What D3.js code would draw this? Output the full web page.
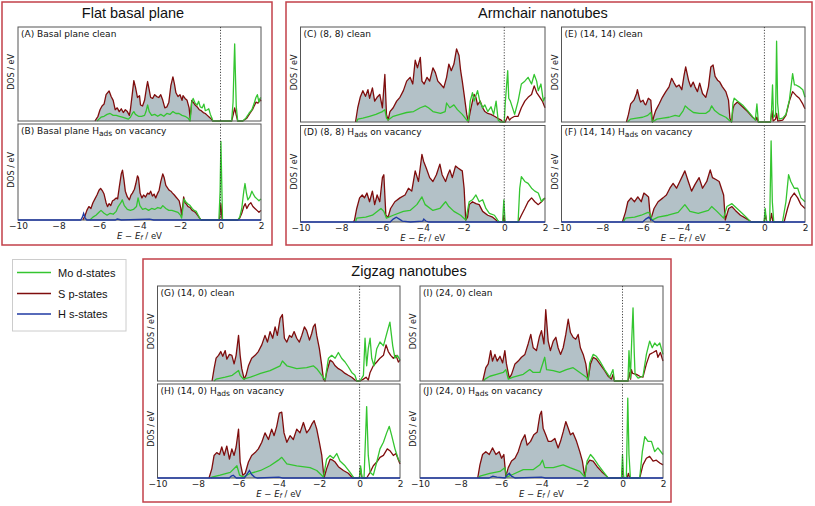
<!DOCTYPE html>
<html><head><meta charset="utf-8">
<script src="https://cdn.jsdelivr.net/npm/d3@7"></script>
<style>body{margin:0;background:#fff}svg{display:block}</style>
</head><body><svg id="c" width="815" height="506"></svg>
<script>
// ---------------- DATA ----------------
const xTicks = [-10, -8, -6, -4, -2, 0, 2];
const xTickLabels = ["\u221210", "\u22128", "\u22126", "\u22124", "\u22122", "0", "2"];
const seriesNames = ["Mo d-states", "S p-states", "H s-states"];
const groupTitles = ["Flat basal plane", "Armchair nanotubes", "Zigzag nanotubes"];

// Panel A: Basal plane clean
const sA = [[-6.2,0],[-6.05,5],[-5.95,12],[-5.85,16],[-5.75,18],[-5.65,28],[-5.5,32],[-5.4,26],[-5.3,22],[-5.2,12],[-5.1,14],[-5.0,10],[-4.9,13],[-4.8,9],[-4.7,12],[-4.6,10],[-4.5,6],[-4.45,12],[-4.35,30],[-4.28,43],[-4.2,36],[-4.1,25],[-4.0,27],[-3.95,17],[-3.85,16],[-3.75,22],[-3.65,36],[-3.6,42],[-3.52,33],[-3.45,25],[-3.35,24],[-3.25,28],[-3.15,26],[-3.05,25],[-2.95,28],[-2.85,22],[-2.75,14],[-2.65,15],[-2.55,20],[-2.45,38],[-2.35,47],[-2.28,40],[-2.2,30],[-2.1,26],[-2.0,28],[-1.9,22],[-1.85,27],[-1.75,24],[-1.65,22],[-1.55,14],[-1.5,3],[-1.42,22],[-1.35,20],[-1.25,17],[-1.15,15],[-1.05,12],[-0.95,11],[-0.85,9],[-0.75,8],[-0.65,6],[-0.55,4],[-0.45,2],[-0.38,0],
  [0.55,0],[0.62,6],[0.7,14],[0.78,6],[0.85,0],[1.1,0],[1.3,3],[1.45,8],[1.6,13],[1.75,20],[1.85,19],[1.95,23],[2.0,21]];
const mA = [[-6.1,0],[-6.0,2],[-5.9,4],[-5.75,5],[-5.6,7],[-5.45,8],[-5.3,6],[-5.15,6],[-5.0,5],[-4.85,4],[-4.7,3],[-4.55,2],[-4.45,4],[-4.35,8],[-4.28,10],[-4.2,7],[-4.05,5],[-3.9,5],[-3.75,6],[-3.68,10],[-3.6,17],[-3.52,10],[-3.4,6],[-3.25,7],[-3.1,5],[-2.95,7],[-2.8,5],[-2.65,8],[-2.5,7],[-2.35,10],[-2.2,8],[-2.05,8],[-1.9,6],[-1.75,5],[-1.6,3],[-1.5,0],[-1.42,20],[-1.35,24],[-1.25,19],[-1.15,17],[-1.08,21],[-1.0,15],[-0.9,14],[-0.82,18],[-0.75,11],[-0.65,12],[-0.58,13],[-0.5,7],[-0.42,3],[-0.38,0],
  [0.55,0],[0.62,20],[0.67,60],[0.7,82],[0.73,55],[0.78,15],[0.85,0],[1.1,0],[1.25,3],[1.4,8],[1.55,12],[1.65,18],[1.75,25],[1.82,28],[1.9,20],[1.95,24],[2.0,25]];

// Panel B: Basal plane H_ads on vacancy
const sB = [[-6.8,0],[-6.7,4],[-6.6,10],[-6.5,14],[-6.4,12],[-6.3,18],[-6.2,22],[-6.1,26],[-6.0,31],[-5.92,33],[-5.82,30],[-5.75,27],[-5.65,18],[-5.58,14],[-5.5,17],[-5.42,15],[-5.33,20],[-5.25,21],[-5.15,23],[-5.08,22],[-5.0,34],[-4.9,48],[-4.84,52],[-4.77,42],[-4.7,30],[-4.6,24],[-4.5,21],[-4.42,26],[-4.35,28],[-4.25,32],[-4.18,38],[-4.1,46],[-4.05,44],[-3.97,28],[-3.88,23],[-3.8,26],[-3.7,24],[-3.6,28],[-3.52,27],[-3.45,30],[-3.36,25],[-3.28,27],[-3.2,23],[-3.1,28],[-3.03,31],[-2.95,40],[-2.85,48],[-2.78,44],[-2.7,36],[-2.6,33],[-2.53,31],[-2.45,30],[-2.37,28],[-2.28,26],[-2.2,24],[-2.12,22],[-2.04,20],[-1.96,12],[-1.92,5],[-1.87,14],[-1.82,24],[-1.75,18],[-1.7,17],[-1.6,14],[-1.5,13],[-1.4,10],[-1.3,9],[-1.2,7],[-1.1,4],[-1.0,1],[-0.95,0],
  [-0.05,0],[0.02,17],[0.08,0],[0.85,0],[0.95,2],[1.05,7],[1.15,14],[1.22,17],[1.3,12],[1.4,16],[1.5,18],[1.6,14],[1.7,12],[1.8,10],[1.9,8],[2.0,10]];
const mB = [[-6.45,0],[-6.3,3],[-6.15,5],[-6.0,8],[-5.9,10],[-5.75,7],[-5.6,5],[-5.45,7],[-5.3,6],[-5.15,9],[-5.05,14],[-4.92,18],[-4.85,21],[-4.75,15],[-4.6,11],[-4.45,10],[-4.3,11],[-4.15,14],[-4.07,23],[-3.98,15],[-3.85,11],[-3.7,12],[-3.55,10],[-3.4,12],[-3.25,11],[-3.1,13],[-2.95,12],[-2.85,15],[-2.7,12],[-2.55,10],[-2.4,10],[-2.25,9],[-2.1,8],[-1.98,5],[-1.92,2],[-1.86,12],[-1.8,22],[-1.72,19],[-1.62,17],[-1.5,15],[-1.4,12],[-1.3,10],[-1.2,9],[-1.1,5],[-1.0,1],[-0.95,0],
  [-0.08,0],[-0.02,30],[0.02,82],[0.06,40],[0.1,0],[0.85,0],[0.95,3],[1.05,12],[1.15,30],[1.21,38],[1.28,28],[1.35,21],[1.45,24],[1.55,30],[1.62,27],[1.7,24],[1.8,22],[1.9,20],[2.0,22]];
const hB = [[-10,0],[-6.9,0],[-6.82,3],[-6.76,7],[-6.68,2],[-6.6,0],[-5.2,0],[-5.1,1],[-4.9,0],[-4.0,0.5],[-3.5,1],[-3.3,0],[2,0]];

// Panel C: (8, 8) clean
const sC = [[-7.3,0],[-7.19,15],[-7.07,26],[-6.94,33],[-6.81,27],[-6.69,34],[-6.61,25],[-6.47,36],[-6.36,22],[-6.24,26],[-6.11,29],[-5.98,15],[-5.86,50],[-5.78,8],[-5.7,2],[-5.61,11],[-5.45,15],[-5.28,22],[-5.12,26],[-4.95,33],[-4.79,43],[-4.62,47],[-4.49,40],[-4.37,65],[-4.26,57],[-4.12,68],[-4.04,43],[-3.93,40],[-3.79,47],[-3.66,43],[-3.5,57],[-3.38,52],[-3.26,43],[-3.13,40],[-2.97,36],[-2.83,47],[-2.72,61],[-2.6,54],[-2.47,61],[-2.34,77],[-2.22,70],[-2.14,54],[-2.06,43],[-1.97,29],[-1.84,8],[-1.76,0],[-1.67,11],[-1.56,22],[-1.48,29],[-1.39,26],[-1.31,18],[-1.18,22],[-1.06,15],[-0.95,11],[-0.81,9],[-0.65,8],[-0.48,6],[-0.32,4],[-0.15,2],[-0.07,0],
  [0.05,0],[0.17,6],[0.26,2],[0.34,4],[0.51,6],[0.68,6],[0.84,15],[1.01,22],[1.17,26],[1.34,29],[1.47,38],[1.59,31],[1.75,26],[1.87,22],[2.0,15]];
const mC = [[-7.25,0],[-7.19,3],[-6.94,4],[-6.61,6],[-6.3,8],[-5.98,11],[-5.86,13],[-5.78,4],[-5.7,2],[-5.45,6],[-5.12,8],[-4.79,10],[-4.45,11],[-4.12,15],[-3.88,17],[-3.72,15],[-3.5,11],[-3.13,9],[-2.9,11],[-2.83,20],[-2.67,15],[-2.47,18],[-2.3,13],[-2.06,8],[-1.84,2],[-1.76,1],[-1.67,22],[-1.56,31],[-1.48,22],[-1.31,33],[-1.2,22],[-1.06,15],[-0.95,18],[-0.81,11],[-0.65,16],[-0.52,8],[-0.4,22],[-0.3,2],[-0.2,0],
  [0.0,0],[0.05,20],[0.17,54],[0.22,25],[0.3,22],[0.51,8],[0.68,22],[0.84,40],[1.01,43],[1.17,47],[1.34,40],[1.47,50],[1.59,43],[1.67,33],[1.8,40],[1.92,22],[2.0,26]];

// Panel D: (8, 8) H_ads on vacancy
const sD = [[-7.4,0],[-7.35,2],[-7.24,14],[-7.1,25],[-6.97,28],[-6.86,25],[-6.74,30],[-6.61,21],[-6.47,32],[-6.36,18],[-6.24,28],[-6.11,21],[-5.98,46],[-5.91,49],[-5.81,7],[-5.7,5],[-5.58,14],[-5.37,21],[-5.12,25],[-4.87,28],[-4.7,35],[-4.54,32],[-4.37,53],[-4.21,42],[-4.04,70],[-3.96,63],[-3.83,56],[-3.66,46],[-3.5,42],[-3.33,49],[-3.16,60],[-3.05,49],[-2.88,42],[-2.77,49],[-2.67,54],[-2.55,46],[-2.39,58],[-2.27,56],[-2.14,54],[-2.06,53],[-1.97,35],[-1.89,2],[-1.8,5],[-1.72,18],[-1.56,21],[-1.39,19],[-1.23,18],[-1.06,11],[-0.81,7],[-0.57,5],[-0.4,2],[-0.32,0],
  [-0.06,0],[-0.02,7],[0.03,0],[0.68,0],[0.84,7],[1.01,14],[1.17,21],[1.34,25],[1.5,21],[1.67,18],[1.83,21],[2.0,25]];
const mD = [[-7.3,0],[-7.24,4],[-6.8,5],[-6.47,7],[-6.05,14],[-5.91,11],[-5.78,4],[-5.45,7],[-4.95,11],[-4.62,12],[-4.29,18],[-4.04,26],[-3.88,18],[-3.5,12],[-3.16,14],[-2.88,21],[-2.72,16],[-2.47,11],[-2.14,7],[-1.89,2],[-1.72,21],[-1.56,23],[-1.39,28],[-1.23,21],[-1.06,23],[-0.9,14],[-0.73,9],[-0.48,7],[-0.32,2],[-0.25,0],
  [-0.08,0],[-0.02,23],[0.04,0],[0.68,0],[0.76,35],[0.84,47],[1.01,42],[1.17,40],[1.34,35],[1.5,32],[1.67,30],[1.83,21],[1.92,24],[2.0,24]];
const hD = [[-10,0],[-5.6,0],[-5.45,3],[-5.3,5],[-5.15,3],[-5.0,1],[-4.6,0],[-4.0,1],[-3.95,3],[-3.85,1],[-3.7,0],[2,0]];

// Panel E: (14, 14) clean
const sE = [[-6.8,0],[-6.7,8],[-6.59,19],[-6.43,23],[-6.3,30],[-6.26,34],[-6.15,24],[-6.1,21],[-5.98,23],[-5.9,19],[-5.85,18],[-5.72,25],[-5.6,23],[-5.52,0],[-5.45,6],[-5.36,12],[-5.19,19],[-5.03,26],[-4.86,32],[-4.7,37],[-4.57,46],[-4.45,41],[-4.34,37],[-4.21,39],[-4.07,34],[-3.96,49],[-3.88,58],[-3.74,44],[-3.63,37],[-3.51,42],[-3.42,37],[-3.3,32],[-3.19,41],[-3.05,30],[-2.89,26],[-2.76,37],[-2.64,58],[-2.53,60],[-2.43,48],[-2.31,44],[-2.2,42],[-2.07,37],[-1.9,32],[-1.77,23],[-1.7,4],[-1.62,0],[-1.55,14],[-1.49,18],[-1.33,21],[-1.08,16],[-0.83,11],[-0.58,5],[-0.42,2],[-0.37,5],[-0.3,0],
  [0.3,0],[0.37,12],[0.43,1],[0.55,3],[0.6,9],[0.66,1],[0.9,2],[1.06,7],[1.23,22],[1.39,32],[1.56,28],[1.72,25],[1.89,19],[2.0,14]];
const mE = [[-6.75,0],[-6.6,3],[-6.3,4],[-6.0,5],[-5.75,7],[-5.6,10],[-5.52,0],[-5.3,3],[-5.0,4],[-4.7,5],[-4.4,7],[-4.2,6],[-4.0,12],[-3.9,17],[-3.75,14],[-3.5,10],[-3.2,9],[-2.9,9],[-2.7,12],[-2.6,17],[-2.45,12],[-2.2,8],[-1.9,5],[-1.7,1],[-1.62,0],[-1.55,20],[-1.49,25],[-1.33,22],[-1.08,18],[-0.83,12],[-0.6,6],[-0.45,2],[-0.37,19],[-0.3,0],
  [0.3,0],[0.35,12],[0.4,39],[0.45,5],[0.55,8],[0.6,85],[0.65,20],[0.72,3],[0.9,4],[1.06,8],[1.23,23],[1.39,51],[1.48,39],[1.56,39],[1.72,37],[1.89,34],[2.0,26]];

// Panel F: (14, 14) H_ads on vacancy
const sF = [[-7.0,0],[-6.85,10],[-6.73,21],[-6.57,25],[-6.4,21],[-6.24,26],[-6.07,21],[-5.94,30],[-5.82,28],[-5.71,26],[-5.61,2],[-5.44,14],[-5.24,21],[-5.0,25],[-4.83,28],[-4.66,35],[-4.5,40],[-4.33,35],[-4.17,42],[-3.92,53],[-3.75,42],[-3.59,32],[-3.42,39],[-3.22,46],[-3.05,35],[-2.84,42],[-2.67,54],[-2.56,46],[-2.39,44],[-2.23,42],[-2.01,28],[-1.93,2],[-1.76,14],[-1.6,16],[-1.43,12],[-1.18,7],[-0.93,4],[-0.63,0],
  [-0.02,0],[0.06,7],[0.12,0],[0.28,0],[0.35,9],[0.42,0],[0.97,0],[1.14,14],[1.3,25],[1.47,30],[1.64,25],[1.8,18],[2.0,14]];
const mF = [[-6.95,0],[-6.85,4],[-6.4,5],[-6.07,7],[-5.74,10],[-5.64,9],[-5.54,2],[-5.24,5],[-4.75,7],[-4.25,10],[-3.92,18],[-3.67,11],[-3.26,9],[-2.76,12],[-2.6,16],[-2.34,11],[-2.01,4],[-1.85,16],[-1.6,19],[-1.35,14],[-1.1,9],[-0.85,4],[-0.68,0],
  [-0.02,0],[0.04,14],[0.1,0],[0.26,0],[0.33,84],[0.39,21],[0.46,0],[0.89,0],[1.06,21],[1.19,49],[1.3,42],[1.47,35],[1.64,35],[1.8,25],[2.0,21]];
const hF = [[-10,0],[-6.0,0],[-5.85,3],[-5.7,5],[-5.55,2],[-5.4,0],[2,0]];

// Panel G: (14, 0) clean
const sG = [[-7.3,0],[-7.2,13],[-7.1,24],[-6.98,27],[-6.87,31],[-6.77,26],[-6.65,32],[-6.57,23],[-6.44,28],[-6.32,27],[-6.21,18],[-6.11,27],[-5.99,48],[-5.91,27],[-5.83,13],[-5.71,2],[-5.62,6],[-5.5,16],[-5.34,24],[-5.17,27],[-5.01,31],[-4.84,38],[-4.68,48],[-4.56,41],[-4.43,52],[-4.3,45],[-4.18,57],[-4.07,48],[-3.93,66],[-3.82,70],[-3.72,45],[-3.6,41],[-3.47,48],[-3.36,46],[-3.24,52],[-3.11,45],[-2.98,41],[-2.86,48],[-2.73,57],[-2.62,53],[-2.48,43],[-2.37,50],[-2.29,57],[-2.2,60],[-2.12,48],[-1.99,34],[-1.87,16],[-1.79,2],[-1.71,0],[-1.62,10],[-1.54,16],[-1.46,22],[-1.33,20],[-1.21,16],[-1.05,13],[-0.89,11],[-0.72,8],[-0.56,6],[-0.39,4],[-0.23,1],[-0.14,0],
  [0.02,0],[0.19,2],[0.32,4],[0.43,1],[0.52,9],[0.68,16],[0.85,20],[1.01,24],[1.18,27],[1.31,38],[1.42,31],[1.54,27],[1.67,24],[1.8,27],[1.92,20],[2.0,22]];
const mG = [[-7.2,0],[-7.1,2],[-6.65,4],[-6.3,6],[-5.99,11],[-5.91,6],[-5.75,2],[-5.4,4],[-4.9,8],[-4.43,11],[-3.93,16],[-3.82,21],[-3.6,16],[-3.11,13],[-2.62,14],[-2.29,16],[-2.12,13],[-1.87,6],[-1.71,1],[-1.54,24],[-1.38,27],[-1.21,24],[-1.05,30],[-0.89,24],[-0.72,20],[-0.56,15],[-0.39,9],[-0.23,6],[-0.14,0],
  [0.02,0],[0.19,6],[0.27,45],[0.35,16],[0.43,34],[0.52,45],[0.6,24],[0.71,16],[0.85,34],[1.01,41],[1.18,37],[1.37,52],[1.5,62],[1.64,37],[1.75,24],[1.87,27],[2.0,22]];

// Panel H: (14, 0) H_ads on vacancy
const sH = [[-7.45,0],[-7.31,10],[-7.2,24],[-7.07,27],[-6.93,25],[-6.82,33],[-6.7,24],[-6.57,34],[-6.44,20],[-6.32,31],[-6.21,24],[-6.11,33],[-5.99,52],[-5.91,17],[-5.78,3],[-5.66,5],[-5.5,17],[-5.34,24],[-5.17,27],[-5.01,31],[-4.84,38],[-4.68,48],[-4.51,41],[-4.35,52],[-4.23,45],[-4.1,55],[-3.97,69],[-3.85,70],[-3.74,48],[-3.6,38],[-3.44,45],[-3.28,41],[-3.11,52],[-2.95,48],[-2.78,59],[-2.62,48],[-2.48,52],[-2.37,57],[-2.25,61],[-2.12,52],[-1.99,38],[-1.87,24],[-1.76,0],[-1.63,10],[-1.46,20],[-1.33,19],[-1.21,17],[-1.05,12],[-0.8,8],[-0.56,5],[-0.34,0],
  [-0.01,0],[0.05,10],[0.12,0],[0.35,0],[0.52,6],[0.68,13],[0.85,17],[1.01,22],[1.18,24],[1.37,31],[1.5,29],[1.67,24],[1.8,26],[2.0,15]];
const mH = [[-7.35,0],[-7.31,1],[-6.9,3],[-6.4,6],[-6.07,13],[-5.94,3],[-5.75,1],[-5.4,5],[-4.9,8],[-4.43,13],[-4.02,19],[-3.85,22],[-3.6,15],[-3.11,13],[-2.45,11],[-2.12,8],[-1.79,1],[-1.63,20],[-1.46,24],[-1.3,21],[-1.13,26],[-0.97,18],[-0.72,13],[-0.47,6],[-0.31,1],[-0.25,0],
  [-0.01,0],[0.05,13],[0.12,0],[0.22,0],[0.35,76],[0.43,24],[0.52,6],[0.68,3],[0.85,17],[1.01,31],[1.18,38],[1.34,48],[1.47,55],[1.59,45],[1.75,31],[1.92,20],[2.0,17]];
const hH = [[-10,0],[-6.45,0],[-6.35,2],[-6.25,3],[-6.1,0],[-5.7,0],[-5.6,3],[-5.45,8],[-5.35,4],[-5.2,1],[-5.05,0],[-4.0,1],[-3.8,0],[2,0]];

// Panel I: (24, 0) clean
const sI = [[-6.9,0],[-6.75,14],[-6.63,18],[-6.51,32],[-6.42,21],[-6.3,28],[-6.19,21],[-6.05,26],[-5.92,19],[-5.81,32],[-5.73,18],[-5.59,3],[-5.48,7],[-5.31,18],[-5.15,21],[-4.99,25],[-4.82,28],[-4.66,39],[-4.53,49],[-4.41,35],[-4.25,32],[-4.11,46],[-4.0,53],[-3.88,39],[-3.79,75],[-3.67,42],[-3.56,32],[-3.42,42],[-3.29,46],[-3.18,35],[-3.06,28],[-2.93,35],[-2.8,49],[-2.68,65],[-2.57,51],[-2.44,46],[-2.31,44],[-2.19,49],[-2.08,35],[-1.94,28],[-1.81,18],[-1.7,1],[-1.58,18],[-1.45,25],[-1.29,23],[-1.12,18],[-0.88,11],[-0.71,5],[-0.55,2],[-0.47,7],[-0.4,0],
  [0.27,0],[0.36,9],[0.4,2],[0.44,12],[0.5,8],[0.69,7],[0.85,5],[1.01,4],[1.18,18],[1.34,28],[1.51,30],[1.67,32],[1.75,25],[1.87,30],[2.0,21]];
const mI = [[-6.85,0],[-6.79,2],[-6.55,5],[-6.22,7],[-5.89,9],[-5.76,12],[-5.64,2],[-5.4,4],[-4.9,7],[-4.58,12],[-4.41,9],[-4.08,9],[-3.84,25],[-3.75,12],[-3.42,11],[-3.1,9],[-2.77,12],[-2.44,14],[-2.11,9],[-1.78,4],[-1.7,1],[-1.62,19],[-1.45,28],[-1.29,26],[-1.12,21],[-0.88,12],[-0.63,4],[-0.47,12],[-0.4,0],
  [0.27,0],[0.32,32],[0.39,3],[0.45,40],[0.52,77],[0.58,30],[0.62,7],[0.77,3],[1.01,5],[1.18,28],[1.34,42],[1.47,35],[1.59,40],[1.71,37],[1.84,40],[2.0,28]];

// Panel J: (24, 0) H_ads on vacancy
const sJ = [[-7.15,0],[-7.04,14],[-6.91,25],[-6.75,28],[-6.58,25],[-6.42,32],[-6.25,25],[-6.09,28],[-5.97,21],[-5.86,25],[-5.76,2],[-5.64,11],[-5.48,18],[-5.31,21],[-5.15,28],[-4.99,39],[-4.82,46],[-4.71,35],[-4.54,39],[-4.38,46],[-4.21,49],[-4.08,67],[-4.0,71],[-3.92,53],[-3.79,46],[-3.67,39],[-3.51,39],[-3.34,42],[-3.18,32],[-3.06,39],[-2.93,49],[-2.8,60],[-2.68,53],[-2.57,46],[-2.44,48],[-2.27,39],[-2.11,28],[-1.98,18],[-1.86,1],[-1.78,14],[-1.62,19],[-1.45,18],[-1.25,12],[-1.04,7],[-0.79,2],[-0.71,0],
  [-0.05,0],[0.0,11],[0.06,0],[0.23,0],[0.29,5],[0.36,0],[0.85,0],[1.01,14],[1.18,21],[1.34,23],[1.51,18],[1.67,19],[1.84,16],[2.0,14]];
const mJ = [[-7.1,0],[-7.04,2],[-6.55,5],[-6.05,7],[-5.81,11],[-5.72,1],[-5.4,4],[-4.9,9],[-4.4,9],[-4.08,14],[-3.95,19],[-3.84,11],[-3.42,11],[-2.93,14],[-2.6,11],[-2.11,7],[-1.86,1],[-1.75,18],[-1.58,25],[-1.42,21],[-1.2,14],[-0.96,7],[-0.71,0],
  [-0.05,0],[0.0,25],[0.06,0],[0.19,0],[0.26,85],[0.32,25],[0.39,0],[0.85,0],[0.98,28],[1.1,44],[1.26,39],[1.43,39],[1.59,28],[1.75,32],[2.0,25]];
const hJ = [[-10,0],[-6.6,0],[-6.4,2],[-6.2,1],[-5.8,0],[-5.7,3],[-5.59,5],[-5.48,2],[-5.3,0],[-4.0,1],[-3.8,0],[2,0]];

// ---------------- LAYOUT ----------------
const COL = {mo:"#34c530", s:"#7f0d0d", h:"#1f3aa3", fill:"#b3c1c7", frame:"#555", box:"#c2404a"};
const FONT_MPL = "'DejaVu Sans', sans-serif";
const FONT_SANS = "'Liberation Sans', Arial, sans-serif";

const svg = d3.select("#c");

const boxes = [
  {x:2, y:2, w:270, h:243, tx:133, ty:18},
  {x:286, y:2, w:526, h:243, tx:543, ty:18},
  {x:143, y:259, w:528, h:243, tx:409, ty:276}
];
boxes.forEach((b, i) => {
  svg.append("rect").attr("x", b.x).attr("y", b.y).attr("width", b.w).attr("height", b.h)
    .attr("fill", "none").attr("stroke", COL.box).attr("stroke-width", 1.5);
  svg.append("text").attr("x", b.tx).attr("y", b.ty).attr("text-anchor", "middle")
    .attr("font-family", FONT_SANS).attr("font-size", 14.5).attr("fill", "#111")
    .text(groupTitles[i]);
});

const panels = [
  {x0:18, x1:261, y0:27, y1:121, lab:["(A) Basal plane clean"], s:sA, m:mA},
  {x0:18, x1:261, y0:124, y1:220, lab:["(B) Basal plane H","ads"," on vacancy"], s:sB, m:mB, h:hB, axis:true},
  {x0:300.5, x1:545, y0:27, y1:122, lab:["(C) (8, 8) clean"], s:sC, m:mC},
  {x0:300.5, x1:545, y0:125.5, y1:222, lab:["(D) (8, 8) H","ads"," on vacancy"], s:sD, m:mD, h:hD, axis:true},
  {x0:561.5, x1:805, y0:27, y1:122, lab:["(E) (14, 14) clean"], s:sE, m:mE},
  {x0:561.5, x1:805, y0:125.5, y1:222, lab:["(F) (14, 14) H","ads"," on vacancy"], s:sF, m:mF, h:hF, axis:true},
  {x0:157.5, x1:400, y0:286, y1:381, lab:["(G) (14, 0) clean"], s:sG, m:mG},
  {x0:157.5, x1:400, y0:384, y1:478, lab:["(H) (14, 0) H","ads"," on vacancy"], s:sH, m:mH, h:hH, axis:true},
  {x0:420, x1:663, y0:286, y1:381, lab:["(I) (24, 0) clean"], s:sI, m:mI},
  {x0:420, x1:663, y0:384, y1:478, lab:["(J) (24, 0) H","ads"," on vacancy"], s:sJ, m:mJ, h:hJ, axis:true}
];

panels.forEach(p => {
  const x = d3.scaleLinear().domain([-10, 2]).range([p.x0, p.x1]);
  const y = d3.scaleLinear().domain([0, 100]).range([p.y1, p.y0]);
  const g = svg.append("g");
  const line = d3.line().x(d => x(d[0])).y(d => y(d[1]));
  const area = d3.area().x(d => x(d[0])).y0(y(0)).y1(d => y(d[1]));

  g.append("path").datum(p.s.filter(d => d[0] <= 0)).attr("d", area).attr("fill", COL.fill);
  g.append("path").datum(p.s).attr("d", line).attr("fill", "none").attr("stroke", COL.s).attr("stroke-width", 1.3).attr("stroke-linejoin", "round");
  g.append("path").datum(p.m).attr("d", line).attr("fill", "none").attr("stroke", COL.mo).attr("stroke-width", 1.3).attr("stroke-linejoin", "round");

  g.append("rect").attr("x", p.x0).attr("y", p.y0).attr("width", p.x1 - p.x0).attr("height", p.y1 - p.y0)
    .attr("fill", "none").attr("stroke", COL.frame).attr("stroke-width", 1);
  if (p.h) {
    g.append("path").datum(p.h).attr("d", line).attr("fill", "none").attr("stroke", COL.h).attr("stroke-width", 1.3);
  }
  g.append("line").attr("x1", x(0)).attr("x2", x(0)).attr("y1", p.y0).attr("y2", p.y1)
    .attr("stroke", "#333").attr("stroke-width", 0.9).attr("stroke-dasharray", "1.2,1.6");

  const t = g.append("text").attr("x", p.x0 + 3).attr("y", p.y0 + 9.5)
    .attr("font-family", FONT_MPL).attr("font-size", 9).attr("fill", "#111");
  t.append("tspan").text(p.lab[0]);
  if (p.lab.length > 1) {
    t.append("tspan").attr("dy", 2).attr("font-size", 7.5).text(p.lab[1]);
    t.append("tspan").attr("dy", -2).text(p.lab[2]);
  }
  g.append("text").attr("transform", `translate(${p.x0 - 4},${(p.y0 + p.y1) / 2 - 2}) rotate(-90)`)
    .attr("text-anchor", "middle").attr("font-family", FONT_MPL).attr("font-size", 8).attr("fill", "#222")
    .text("DOS / eV");

  if (p.axis) {
    const ax = g.append("g").attr("transform", `translate(0,${p.y1})`)
      .call(d3.axisBottom(x).tickValues(xTicks).tickFormat((d, i) => xTickLabels[i]).tickSize(0).tickPadding(3));
    ax.select(".domain").remove();
    ax.selectAll("text").attr("font-family", FONT_MPL).attr("font-size", 9).attr("fill", "#222");
    const xl = g.append("text").attr("x", (p.x0 + p.x1) / 2).attr("y", p.y1 + 18.5).attr("text-anchor", "middle")
      .attr("font-family", FONT_MPL).attr("font-size", 8.5).attr("fill", "#222");
    xl.append("tspan").attr("font-style", "italic").text("E");
    xl.append("tspan").text(" \u2212 ");
    xl.append("tspan").attr("font-style", "italic").text("E");
    xl.append("tspan").attr("font-style", "italic").attr("font-size", 6.5).attr("dy", 1.5).text("f");
    xl.append("tspan").attr("dy", -1.5).text(" / eV");
  }
});

// legend
const leg = svg.append("g");
leg.append("rect").attr("x", 12.5).attr("y", 259.5).attr("width", 113.5).attr("height", 71.5)
  .attr("fill", "#fff").attr("stroke", "#ccc").attr("stroke-width", 1);
const legCols = [COL.mo, COL.s, COL.h];
const legY = [272.5, 293.5, 314];
seriesNames.forEach((n, i) => {
  leg.append("line").attr("x1", 17).attr("x2", 51).attr("y1", legY[i]).attr("y2", legY[i])
    .attr("stroke", legCols[i]).attr("stroke-width", 1.5);
  leg.append("text").attr("x", 58).attr("y", legY[i] + 4).attr("font-family", FONT_SANS)
    .attr("font-size", 11).attr("fill", "#111").text(n);
});
</script>
</body></html>
